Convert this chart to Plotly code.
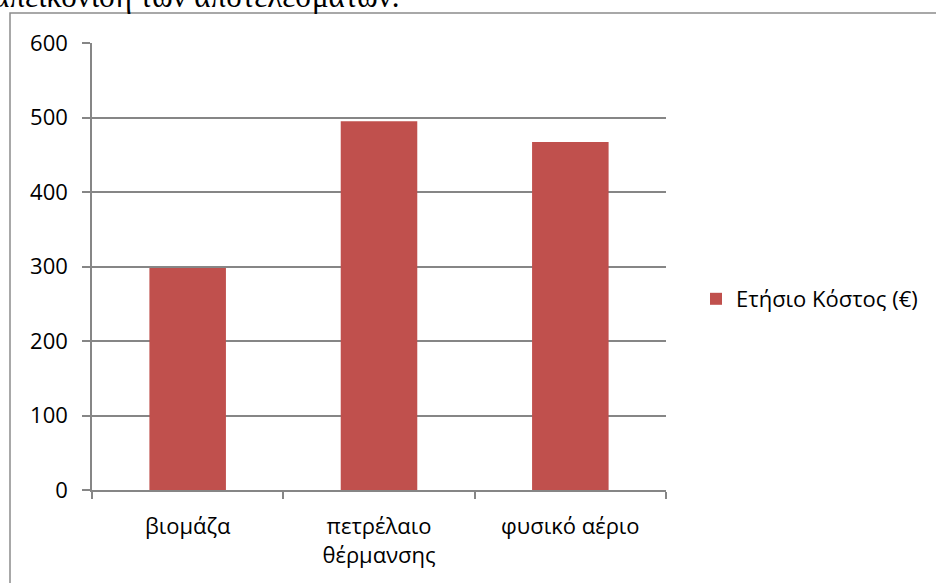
import plotly.graph_objects as go

categories = ["βιομάζα", "πετρέλαιο<br>θέρμανσης", "φυσικό αέριο"]
values = [298, 495, 467]
series_name = "Ετήσιο Κόστος (€)"
y_ticks = [0, 100, 200, 300, 400, 500, 600]

W, H = 936, 583
L, R, T, B = 92, 666, 43, 490

def px(x):
    return (x - L) / (R - L)

def py(y):
    return (B - y) / (B - T)

FONT = "Open Sans, Noto Sans, sans-serif"
GRID = "#868686"
FS = 22

fig = go.Figure()
fig.add_trace(go.Bar(
    x=categories, y=values, name=series_name,
    marker=dict(color="#C0504D", line=dict(width=0)),
    showlegend=True,
))

fig.update_layout(
    width=W, height=H,
    margin=dict(l=L, r=W - R, t=T, b=H - B),
    paper_bgcolor="white", plot_bgcolor="white",
    bargap=0.6,
    font=dict(family=FONT, size=FS, color="black"),
    showlegend=True,
    legend=dict(x=px(696), y=py(299), xanchor="left", yanchor="middle",
                font=dict(size=FS), bgcolor="rgba(0,0,0,0)"),
    xaxis=dict(showgrid=False, showline=True, linecolor=GRID, linewidth=1.5,
               ticks="outside", tickson="boundaries", ticklen=7, tickcolor=GRID,
               tickwidth=1.5, tickfont=dict(size=FS), ticklabelstandoff=16,
               fixedrange=True),
    yaxis=dict(range=[0, 600], tickvals=y_ticks, showgrid=True, gridcolor=GRID,
               gridwidth=1.5, showline=True, linecolor=GRID, linewidth=1.5,
               ticks="outside", ticklen=8, tickcolor=GRID, tickwidth=1.5,
               tickfont=dict(size=FS), ticklabelstandoff=10, zeroline=False,
               fixedrange=True),
    shapes=[dict(type="rect", xref="paper", yref="paper",
                 x0=px(10), x1=px(1000), y0=py(700), y1=py(13),
                 line=dict(color="#8c8c8c", width=1.5), fillcolor="rgba(0,0,0,0)", layer="below")],
    annotations=[dict(text="απεικόνιση των αποτελεσμάτων.", xref="paper", yref="paper",
                      x=px(-9), y=py(16), xanchor="left", yanchor="bottom", showarrow=False,
                      font=dict(family="Liberation Serif, DejaVu Serif, serif", size=31, color="black"))],
)

fig.write_html("out.html", config={"displayModeBar": False},
               post_script="document.body.style.margin='0';document.body.style.overflow='hidden';")
